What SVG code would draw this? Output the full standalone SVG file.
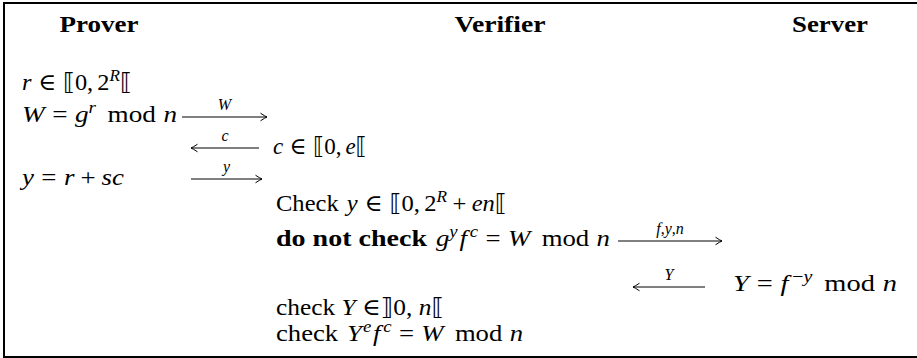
<svg xmlns="http://www.w3.org/2000/svg" width="917" height="358" viewBox="0 0 917 358">
<style>
.t{font-family:"Liberation Serif","DejaVu Serif","DejaVu Sans",serif;font-size:23.5px;fill:#000}
.i{font-style:italic}
.b{font-weight:bold}
.h{font-weight:bold;text-anchor:middle}
.s{font-size:16.5px}
.lab{font-family:"Liberation Serif","DejaVu Serif",serif;font-size:16px;text-anchor:middle;fill:#000}
.arr{stroke:#000;stroke-width:1;fill:none}
</style>
<defs>
<marker id="ah" viewBox="-8 -5 10 10" refX="0" refY="0" markerWidth="10" markerHeight="10" orient="auto" markerUnits="userSpaceOnUse">
<path d="M-6.5,-3.8 Q-2,-0.8 0,0 Q-2,0.8 -6.5,3.8" stroke="#000" stroke-width="1" fill="none"/>
</marker>
</defs>
<rect x="4" y="3" width="920" height="354" fill="#fff" stroke="#000" stroke-width="2"/>
<g id="header-prover"><text class="t h" x="99" y="32" textLength="79" lengthAdjust="spacingAndGlyphs">Prover</text></g>
<g id="header-verifier"><text class="t h" x="500" y="32" textLength="91" lengthAdjust="spacingAndGlyphs">Verifier</text></g>
<g id="header-server"><text class="t h" x="830" y="32" textLength="76" lengthAdjust="spacingAndGlyphs">Server</text></g>
<g id="prover-r"><text class="t" x="22" y="90" textLength="110" lengthAdjust="spacingAndGlyphs"><tspan class="i">r</tspan><tspan dx="6.5">∈</tspan><tspan dx="6.5">⟦0,</tspan><tspan dx="4">2</tspan><tspan class="s i" dy="-9">R</tspan><tspan dy="9">⟦</tspan></text></g>
<g id="prover-W"><text class="t" x="22" y="122" textLength="155" lengthAdjust="spacingAndGlyphs"><tspan class="i">W</tspan><tspan dx="6.5">=</tspan><tspan class="i" dx="6.5">g</tspan><tspan class="s i" dy="-9">r</tspan><tspan dy="9" dx="10">mod</tspan><tspan class="i" dx="6.5">n</tspan></text></g>
<g id="verifier-c"><text class="t" x="273" y="154" textLength="94" lengthAdjust="spacingAndGlyphs"><tspan class="i">c</tspan><tspan dx="6.5">∈</tspan><tspan dx="6.5">⟦0,</tspan><tspan class="i" dx="4">e</tspan><tspan>⟦</tspan></text></g>
<g id="prover-y"><text class="t" x="22" y="185" textLength="102" lengthAdjust="spacingAndGlyphs"><tspan class="i">y</tspan><tspan dx="6.5">=</tspan><tspan class="i" dx="6.5">r</tspan><tspan dx="5.2">+</tspan><tspan class="i" dx="5.2">sc</tspan></text></g>
<g id="verifier-check-y"><text class="t" x="276" y="211" textLength="231" lengthAdjust="spacingAndGlyphs">Check<tspan class="i" dx="7.8">y</tspan><tspan dx="6.5">∈</tspan><tspan dx="6.5">⟦0,</tspan><tspan dx="4">2</tspan><tspan class="s i" dy="-9">R</tspan><tspan dy="9" dx="5.2">+</tspan><tspan class="i" dx="5.2">en</tspan><tspan>⟦</tspan></text></g>
<g id="verifier-no-check">
<text class="t b" x="276" y="246" textLength="151" lengthAdjust="spacingAndGlyphs">do not check</text>
<text class="t" x="436" y="246" textLength="174" lengthAdjust="spacingAndGlyphs"><tspan class="i">g</tspan><tspan class="s i" dy="-9">y</tspan><tspan class="i" dy="9" dx="1.5">f</tspan><tspan class="s i" dy="-9" dx="2.5">c</tspan><tspan dy="9" dx="6.5">=</tspan><tspan class="i" dx="6.5">W</tspan><tspan dx="10">mod</tspan><tspan class="i" dx="6.5">n</tspan></text>
</g>
<g id="server-Y"><text class="t" x="733" y="291" textLength="164" lengthAdjust="spacingAndGlyphs"><tspan class="i">Y</tspan><tspan dx="6.5">=</tspan><tspan class="i" dx="6.5">f</tspan><tspan class="s" dy="-9" dx="3">−</tspan><tspan class="s i">y</tspan><tspan dy="9" dx="10">mod</tspan><tspan class="i" dx="6.5">n</tspan></text></g>
<g id="verifier-check-Y-range"><text class="t" x="276" y="315" textLength="168" lengthAdjust="spacingAndGlyphs">check <tspan class="i">Y</tspan> ∈⟧0, <tspan class="i">n</tspan>⟦</text></g>
<g id="verifier-check-Y-eq"><text class="t" x="276" y="341" textLength="247" lengthAdjust="spacingAndGlyphs">check<tspan class="i" dx="7.8">Y</tspan><tspan class="s i" dy="-9" dx="1">e</tspan><tspan class="i" dy="9" dx="1.5">f</tspan><tspan class="s i" dy="-9" dx="2.5">c</tspan><tspan dy="9" dx="6.5">=</tspan><tspan class="i" dx="6.5">W</tspan><tspan dx="10">mod</tspan><tspan class="i" dx="6.5">n</tspan></text></g>
<g id="connectors">
<line class="arr" x1="182" y1="117" x2="267" y2="117" marker-end="url(#ah)"/>
<text class="lab i" x="224.5" y="110">W</text>
<line class="arr" x1="259" y1="148" x2="191" y2="148" marker-end="url(#ah)"/>
<text class="lab i" x="225" y="141">c</text>
<line class="arr" x1="191" y1="179" x2="262" y2="179" marker-end="url(#ah)"/>
<text class="lab i" x="226.5" y="172">y</text>
<line class="arr" x1="618" y1="241" x2="722" y2="241" marker-end="url(#ah)"/>
<text class="lab" x="670" y="234"><tspan class="i">f</tspan>,<tspan class="i">y</tspan>,<tspan class="i">n</tspan></text>
<line class="arr" x1="705" y1="287" x2="633" y2="287" marker-end="url(#ah)"/>
<text class="lab i" x="669" y="280">Y</text>
</g>
</svg>
